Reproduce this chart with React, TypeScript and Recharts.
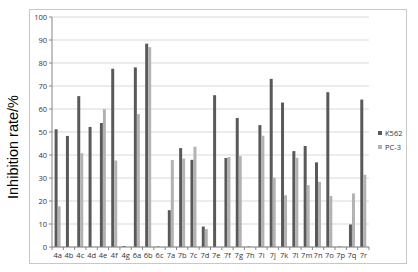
import { BarChart, Bar, XAxis, YAxis, CartesianGrid } from 'recharts';

const compounds = [
  '4a', '4b', '4c', '4d', '4e', '4f', '4g', '6a', '6b', '6c',
  '7a', '7b', '7c', '7d', '7e', '7f', '7g', '7h', '7i', '7j',
  '7k', '7l', '7m', '7n', '7o', '7p', '7q', '7r',
];
const k562 = [
  51.2, 48.3, 65.6, 52.2, 53.9, 77.5, 0.4, 78.1, 88.4, 0.2,
  16, 43, 37.9, 8.9, 66, 38.7, 56.1, 0.2, 53, 73.1,
  62.8, 41.7, 43.9, 36.8, 67.3, 0.2, 9.8, 64.1,
];
const pc3 = [
  17.7, 0, 40.8, 0, 59.9, 37.6, 0, 57.8, 86.9, 0,
  37.8, 38.5, 43.6, 7.8, 0, 39.1, 39.5, 0, 48.4, 30.1,
  22.5, 38.8, 26.9, 28.3, 22.2, 0, 23.3, 31.4,
];
const yTicks = [0, 10, 20, 30, 40, 50, 60, 70, 80, 90, 100];

const data = compounds.map((name, i) => ({ name, K562: k562[i], 'PC-3': pc3[i] }));

const DARK = '#595959';
const LIGHT = '#b2b2b2';
const BAND = 317 / compounds.length;

function CategoryTick(props: any) {
  const { x, y, payload, index } = props;
  return (
    <g>
      <line x1={x - BAND / 2} y1={y - 8} x2={x - BAND / 2} y2={y - 5} stroke="#868686" />
      {index === compounds.length - 1 && (
        <line x1={x + BAND / 2} y1={y - 8} x2={x + BAND / 2} y2={y - 5} stroke="#868686" />
      )}
      <text x={x} y={y + 3} textAnchor="middle" fontSize={7.5} fill="#333">
        {payload.value}
      </text>
    </g>
  );
}

export default function App() {
  return (
    <div
      style={{
        position: 'absolute',
        left: 0,
        top: 0,
        width: 418,
        height: 272,
        background: '#fff',
        fontFamily: '"Open Sans", "Liberation Sans", sans-serif',
      }}
    >
      <div
        style={{
          position: 'absolute',
          left: 29,
          top: 9,
          width: 378,
          height: 255,
          border: '1px solid #c8c8c8',
          boxSizing: 'border-box',
        }}
      />
      <div
        style={{
          position: 'absolute',
          left: 13,
          top: 147,
          transform: 'translate(-50%, -50%) rotate(-90deg)',
          whiteSpace: 'nowrap',
          fontSize: 14.5,
          fontFamily: '"Liberation Sans", Arial, sans-serif',
          color: '#000',
        }}
      >
        Inhibition rate/%
      </div>
      <BarChart
        width={418}
        height={272}
        data={data}
        margin={{ top: 17, right: 49, bottom: 0, left: 0 }}
        barCategoryGap="23%"
        barGap={0}
        style={{ position: 'absolute', left: 0, top: 0 }}
      >
        <CartesianGrid vertical={false} stroke="#d9d9d9" />
        <XAxis
          dataKey="name"
          height={25}
          interval={0}
          stroke="#868686"
          tickLine={false}
          tick={<CategoryTick />}
        />
        <YAxis
          width={52}
          domain={[0, 100]}
          ticks={yTicks}
          interval={0}
          stroke="#868686"
          tickSize={3}
          tick={{ fontSize: 7.5, fill: '#333' }}
        />
        <Bar dataKey="K562" fill={DARK} isAnimationActive={false} />
        <Bar dataKey="PC-3" fill={LIGHT} isAnimationActive={false} />
      </BarChart>
      <div style={{ position: 'absolute', left: 378, top: 126, fontSize: 7.5, color: '#333', lineHeight: '14px' }}>
        <div style={{ display: 'flex', alignItems: 'center' }}>
          <span style={{ width: 4, height: 4, background: DARK, marginRight: 3, display: 'inline-block' }} />
          K562
        </div>
        <div style={{ display: 'flex', alignItems: 'center' }}>
          <span style={{ width: 4, height: 4, background: LIGHT, marginRight: 3, display: 'inline-block' }} />
          PC-3
        </div>
      </div>
    </div>
  );
}
